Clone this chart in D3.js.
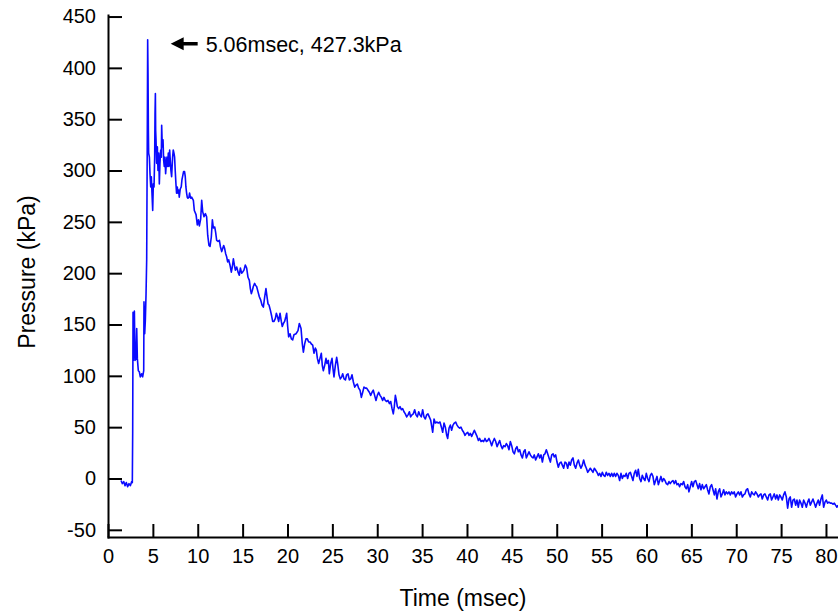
<!DOCTYPE html>
<html>
<head>
<meta charset="utf-8">
<script src="https://cdn.jsdelivr.net/npm/d3@7"></script>
<style>
  body { margin: 0; background: #fff; }
  svg { display: block; font-family: "Liberation Sans", Arial, sans-serif; }
  .axis path, .axis line { stroke: #000; stroke-width: 2; }
  .axis text { font-size: 20px; fill: #000; }
</style>
</head>
<body>
<svg id="chart" width="838" height="614"></svg>
<script>
var xTicks = [0, 5, 10, 15, 20, 25, 30, 35, 40, 45, 50, 55, 60, 65, 70, 75, 80];
var yTicks = [-50, 0, 50, 100, 150, 200, 250, 300, 350, 400, 450];
var peakLabel = "5.06msec, 427.3kPa";

// pressure trace, [time msec, pressure kPa]
var trace = [
  [1.45,-2],[1.60,-5],[1.75,-3],[1.90,-7],[2.04,-4],[2.19,-8],[2.34,-5],[2.49,-7],[2.64,-3],[2.71,-4],
  [2.75,44],[2.79,162],[2.82,115],[2.86,130],[2.94,163],[3.01,115],[3.12,117],[3.20,146],[3.27,117],
  [3.38,105],[3.49,104],[3.60,99],[3.75,102],[3.86,99],[3.98,105],[4.01,172],[4.09,141],[4.16,154],
  [4.24,180],[4.31,213],[4.38,339],[4.42,427.3],[4.46,394],[4.50,339],[4.53,317],[4.61,313],[4.68,297],
  [4.76,284],[4.83,294],[4.90,278],[4.98,261],[5.05,287],[5.13,284],[5.20,313],[5.24,356],[5.28,375],
  [5.31,339],[5.35,330],[5.42,307],[5.50,323],[5.57,300],[5.65,317],[5.72,287],[5.79,307],[5.87,320],
  [5.94,313],[5.98,344],[6.05,323],[6.13,330],[6.20,310],[6.27,304],[6.35,313],[6.42,297],[6.50,307],
  [6.57,313],[6.64,304],[6.72,317],[6.79,304],[6.87,320],[6.94,310],[7.01,300],[7.09,294],[7.20,313],
  [7.27,320],[7.35,317],[7.42,313],[7.49,300],[7.57,287],[7.64,278],[7.72,284],[7.79,278],[7.87,281],
  [7.94,274],[8.05,282],[8.16,284],[8.24,291],[8.31,294],[8.42,299],[8.53,299],[8.61,294],[8.68,284],
  [8.76,278],[8.83,274],[8.91,273],[9.02,274],[9.09,278],[9.17,274],[9.24,273],[9.32,274],[9.51,271],
  [9.62,261],[9.81,257],[9.95,247],[10.07,252],[10.18,246],[10.33,253],[10.44,271],[10.55,260],
  [10.70,255],[10.85,258],[10.99,255],[11.11,237],[11.25,227],[11.37,226],[11.51,235],[11.63,252],
  [11.74,244],[11.89,245],[11.99,240],[12.11,232],[12.26,231],[12.41,232],[12.52,226],[12.67,221],
  [12.78,224],[12.89,227],[13.00,224],[13.11,219],[13.22,216],[13.33,211],[13.45,213],[13.59,208],
  [13.74,201],[13.85,206],[13.97,214],[14.08,208],[14.19,203],[14.34,206],[14.49,201],[14.63,198],
  [14.75,205],[14.89,200],[15.00,201],[15.15,203],[15.30,208],[15.45,205],[15.60,196],[15.75,193],
  [15.86,185],[15.97,180],[16.08,183],[16.19,187],[16.34,190],[16.45,188],[16.56,187],[16.71,182],
  [16.86,177],[17.01,174],[17.16,169],[17.31,167],[17.46,177],[17.60,185],[17.72,177],[17.83,170],
  [17.94,169],[18.09,164],[18.24,158],[18.35,153],[18.50,153],[18.65,156],[18.76,161],[18.87,158],
  [19.02,153],[19.17,161],[19.31,153],[19.42,148],[19.54,151],[19.68,153],[19.83,158],[19.91,161],
  [20.02,148],[20.13,138],[20.28,141],[20.43,136],[20.58,135],[20.72,140],[20.95,141],[21.17,144],
  [21.32,151],[21.51,146],[21.65,131],[21.77,123],[21.91,131],[22.06,136],[22.21,136],[22.36,133],
  [22.51,133],[22.66,131],[22.81,130],[22.95,122],[23.10,127],[23.21,125],[23.33,117],[23.47,112],
  [23.62,117],[23.77,122],[23.88,110],[23.99,105],[24.14,110],[24.29,117],[24.40,112],[24.55,115],
  [24.66,102],[24.81,112],[24.96,117],[25.07,107],[25.18,99],[25.33,110],[25.48,118],[25.59,112],
  [25.74,101],[25.89,97],[26.04,99],[26.15,102],[26.30,97],[26.45,96],[26.59,101],[26.74,102],
  [26.89,96],[27.04,97],[27.19,101],[27.34,94],[27.49,89],[27.63,91],[27.78,92],[27.93,88],[28.08,86],
  [28.23,79],[28.38,84],[28.52,89],[28.67,88],[28.82,88],[28.97,86],[29.12,84],[29.27,81],[29.42,84],
  [29.56,86],[29.71,81],[29.86,76],[30.01,81],[30.16,84],[30.31,81],[30.46,79],[30.60,76],[30.75,79],
  [30.90,76],[31.05,75],[31.20,76],[31.35,73],[31.50,75],[31.65,68],[31.79,63],[31.90,70],[32.02,81],
  [32.13,76],[32.24,70],[32.39,68],[32.54,70],[32.69,67],[32.83,68],[32.98,65],[33.13,63],[33.28,60],
  [33.43,62],[33.58,65],[33.72,60],[33.87,62],[34.02,63],[34.17,67],[34.32,62],[34.47,60],[34.62,65],
  [34.76,62],[34.91,60],[35.06,67],[35.21,60],[35.36,58],[35.51,62],[35.65,63],[35.80,60],[35.95,57],
  [36.18,45],[36.33,58],[36.47,54],[36.62,55],[36.81,54],[36.99,55],[37.18,49],[37.29,45],[37.44,54],
  [37.59,50],[37.74,42],[37.85,39],[38.00,49],[38.15,52],[38.29,47],[38.44,52],[38.59,54],[38.74,55],
  [38.89,52],[39.04,50],[39.19,49],[39.33,50],[39.48,47],[39.63,45],[39.78,42],[39.93,44],[40.08,45],
  [40.23,42],[40.37,44],[40.52,41],[40.67,44],[40.82,47],[40.97,44],[41.12,41],[41.27,37],[41.41,39],
  [41.56,36],[41.71,37],[41.86,36],[42.01,39],[42.16,36],[42.31,37],[42.45,39],[42.60,36],[42.75,32],
  [42.90,36],[43.05,39],[43.20,36],[43.35,31],[43.49,34],[43.64,37],[43.79,32],[43.94,29],[44.09,32],
  [44.24,31],[44.39,34],[44.53,32],[44.68,28],[44.83,36],[44.98,32],[45.13,26],[45.28,24],[45.43,29],
  [45.57,31],[45.72,26],[45.87,28],[46.02,23],[46.17,20],[46.32,26],[46.47,28],[46.61,20],[46.76,23],
  [46.91,26],[47.06,23],[47.21,21],[47.36,20],[47.50,23],[47.65,18],[47.80,21],[47.95,24],[48.10,20],
  [48.25,23],[48.40,16],[48.55,23],[48.69,24],[48.84,28],[48.99,24],[49.14,20],[49.29,16],[49.44,23],
  [49.59,24],[49.73,21],[49.88,23],[50.03,16],[50.18,11],[50.33,15],[50.48,16],[50.62,13],[50.77,10],
  [50.92,16],[51.07,15],[51.22,10],[51.37,16],[51.52,13],[51.66,18],[51.81,20],[51.96,13],[52.11,10],
  [52.26,15],[52.41,18],[52.56,13],[52.70,10],[52.85,13],[53.00,18],[53.15,13],[53.30,10],[53.45,6],
  [53.60,8],[53.74,10],[53.89,8],[54.04,6],[54.19,10],[54.34,8],[54.49,6],[54.64,3],[54.78,5],
  [54.93,2],[55.08,6],[55.23,3],[55.37,2],[55.52,6],[55.67,3],[55.82,5],[55.97,2],[56.12,5],[56.27,2],
  [56.41,5],[56.56,2],[56.71,5],[56.86,3],[57.01,-2],[57.16,5],[57.31,0],[57.45,3],[57.60,2],[57.75,5],
  [57.90,0],[58.05,5],[58.20,6],[58.35,2],[58.49,-2],[58.64,5],[58.79,8],[58.94,2],[59.09,9],[59.24,0],
  [59.39,-3],[59.53,3],[59.68,0],[59.83,-2],[59.98,5],[60.13,0],[60.28,-3],[60.43,3],[60.57,5],
  [60.72,2],[60.87,-6],[61.02,-2],[61.17,2],[61.32,-6],[61.47,-2],[61.61,2],[61.76,-3],[61.91,0],
  [62.06,-2],[62.21,-5],[62.36,-6],[62.51,-3],[62.65,-5],[62.80,-3],[62.95,-2],[63.10,-5],[63.25,-2],
  [63.40,-6],[63.55,-5],[63.69,-8],[63.84,-5],[63.99,-6],[64.14,-3],[64.29,-8],[64.44,-10],[64.59,-6],
  [64.73,-13],[64.88,-8],[65.03,-3],[65.18,-8],[65.33,-3],[65.48,-2],[65.63,-6],[65.77,-10],[65.92,-5],
  [66.07,-11],[66.22,-6],[66.37,-10],[66.52,-8],[66.67,-6],[66.81,-11],[66.96,-15],[67.11,-8],
  [67.26,-6],[67.41,-11],[67.56,-16],[67.71,-10],[67.85,-20],[68.00,-13],[68.15,-10],[68.30,-18],
  [68.45,-15],[68.60,-11],[68.74,-16],[68.89,-13],[69.04,-15],[69.19,-13],[69.34,-16],[69.49,-13],
  [69.64,-15],[69.78,-13],[69.93,-18],[70.08,-15],[70.23,-13],[70.38,-16],[70.53,-13],[70.68,-18],
  [70.82,-16],[70.97,-15],[71.12,-11],[71.27,-10],[71.42,-15],[71.57,-18],[71.72,-13],[71.86,-15],
  [72.01,-16],[72.16,-13],[72.31,-15],[72.46,-18],[72.61,-16],[72.76,-15],[72.90,-20],[73.05,-16],
  [73.20,-15],[73.35,-18],[73.50,-21],[73.65,-16],[73.80,-15],[73.94,-21],[74.09,-18],[74.24,-15],
  [74.39,-20],[74.54,-16],[74.69,-21],[74.84,-16],[74.98,-18],[75.13,-21],[75.28,-16],[75.43,-13],
  [75.58,-18],[75.73,-29],[75.88,-20],[76.02,-18],[76.17,-28],[76.32,-21],[76.47,-20],[76.62,-26],
  [76.77,-21],[76.92,-28],[77.06,-21],[77.21,-24],[77.36,-28],[77.51,-21],[77.66,-24],[77.81,-28],
  [77.96,-23],[78.10,-20],[78.25,-26],[78.40,-23],[78.55,-20],[78.70,-24],[78.85,-28],[79.00,-24],
  [79.14,-21],[79.29,-26],[79.44,-20],[79.59,-16],[79.74,-28],[79.89,-23],[80.03,-21],[80.18,-24],
  [80.33,-23],[80.48,-24],[80.63,-24],[80.78,-25],[80.93,-24],[81.07,-26],[81.22,-28],[81.33,-26]
];
var peak = [4.42, 427.3];

var svg = d3.select("#chart");
var mLeft = 108, mRight = 838, mTop = 15, mBottom = 537;

var x = d3.scaleLinear().domain([0, 81.34]).range([mLeft, mRight]);
var y = d3.scaleLinear().domain([-57, 451.5]).range([mBottom, mTop]);

// plain hyphen for negatives, like the original
var plainFmt = function(d) { return String(d); };

svg.append("defs").append("clipPath").attr("id", "plotClip")
  .append("rect").attr("x", mLeft).attr("y", 0).attr("width", mRight - mLeft).attr("height", mBottom);

svg.append("path")
  .datum(trace)
  .attr("clip-path", "url(#plotClip)")
  .attr("fill", "none")
  .attr("stroke", "#0a0aff")
  .attr("stroke-width", 1.6)
  .attr("stroke-linejoin", "round")
  .attr("d", d3.line().x(function(d) { return x(d[0]); }).y(function(d) { return y(d[1]); }));

svg.append("g")
  .attr("class", "axis")
  .attr("transform", "translate(" + mLeft + ",0)")
  .call(d3.axisLeft(y).tickValues(yTicks).tickFormat(plainFmt).tickSize(-14).tickSizeOuter(0).tickPadding(12));

svg.append("g")
  .attr("class", "axis")
  .attr("transform", "translate(0," + mBottom + ")")
  .call(d3.axisBottom(x).tickValues(xTicks).tickFormat(plainFmt).tickSize(-13).tickSizeOuter(0).tickPadding(12));

svg.selectAll(".axis .domain").attr("stroke-linecap", "square");

svg.append("text")
  .attr("x", 463).attr("y", 606)
  .attr("text-anchor", "middle")
  .style("font-size", "23px")
  .text("Time (msec)");

svg.append("text")
  .attr("transform", "translate(35,272) rotate(-90)")
  .attr("text-anchor", "middle")
  .style("font-size", "23px")
  .text("Pressure (kPa)");

// peak annotation, arrow pointing left at the max
var ax = x(peak[0]) + 23, ay = y(peak[1]) + 4;
svg.append("path")
  .attr("d", "M" + ax + "," + ay + " l13,-6.5 l0,4.75 l14,0 l0,3.5 l-14,0 l0,4.75 z")
  .attr("fill", "#000");
svg.append("text")
  .attr("x", ax + 35).attr("y", ay + 8)
  .style("font-size", "21.5px")
  .text(peakLabel);
</script>
</body>
</html>
